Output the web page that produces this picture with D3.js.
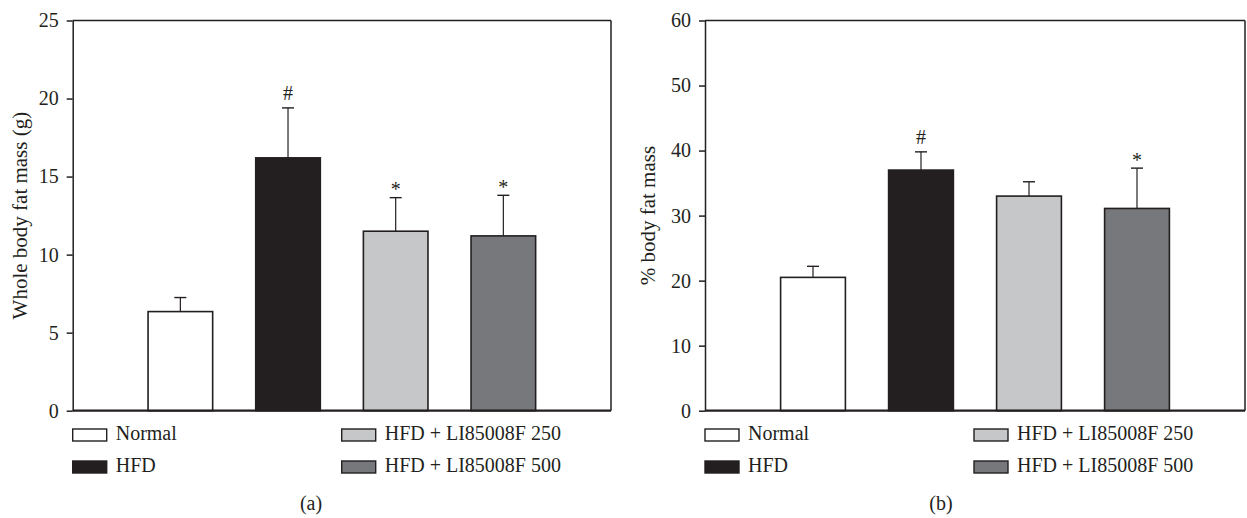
<!DOCTYPE html>
<html>
<head>
  <meta charset="utf-8" />
  <title>Body fat mass</title>
  <script src="https://d3js.org/d3.v7.min.js"></script>
  <style>
    body { margin: 0; background: #fff; }
    svg { display: block; }
    text { font-family: 'Liberation Serif', 'Times New Roman', serif; fill: #231f20; }
  </style>
</head>
<body>
  <svg id="chart" width="1247" height="518"></svg>
  <script>
    // data
    var groups = ["Normal", "HFD", "HFD + LI85008F 250", "HFD + LI85008F 500"];
    var fills = ["#ffffff", "#231f20", "#c6c7c9", "#77787b"];

    var fatMass = [6.35, 16.2, 11.5, 11.2];
    var fatMassErr = [0.9, 3.2, 2.15, 2.6];
    var fatMassSig = ["", "#", "*", "*"];
    var fatMassTicks = [0, 5, 10, 15, 20, 25];

    var fatPct = [20.5, 37.0, 33.0, 31.1];
    var fatPctErr = [1.7, 2.8, 2.2, 6.2];
    var fatPctSig = ["", "#", "", "*"];
    var fatPctTicks = [0, 10, 20, 30, 40, 50, 60];

    var ink = "#231f20";
    var svg = d3.select("#chart");

    function drawPanel(opt) {
      var g = svg.append("g");
      var top = 20.5, bottom = 410.7;

      var x = d3.scalePoint().domain(groups).range([opt.x0, opt.x1]).padding(1);
      var y = d3.scaleLinear().domain([0, opt.max]).range([bottom, top]);
      var bw = x.step() * 0.6;

      var rows = groups.map(function(name, i) {
        return { name: name, v: opt.values[i], e: opt.errs[i], sig: opt.sig[i], fill: fills[i] };
      });

      // bars
      g.selectAll("rect.bar").data(rows).enter().append("rect")
        .attr("class", "bar")
        .attr("x", function(d) { return x(d.name) - bw / 2; })
        .attr("y", function(d) { return y(d.v); })
        .attr("width", bw)
        .attr("height", function(d) { return y(0) - y(d.v); })
        .attr("fill", function(d) { return d.fill; })
        .attr("stroke", ink)
        .attr("stroke-width", 1.6);

      // error bars (upper only)
      g.selectAll("line.err").data(rows).enter().append("line")
        .attr("class", "err")
        .attr("x1", function(d) { return x(d.name); })
        .attr("x2", function(d) { return x(d.name); })
        .attr("y1", function(d) { return y(d.v); })
        .attr("y2", function(d) { return y(d.v + d.e); })
        .attr("stroke", ink).attr("stroke-width", 1.2);
      g.selectAll("line.cap").data(rows).enter().append("line")
        .attr("class", "cap")
        .attr("x1", function(d) { return x(d.name) - 6; })
        .attr("x2", function(d) { return x(d.name) + 6; })
        .attr("y1", function(d) { return y(d.v + d.e); })
        .attr("y2", function(d) { return y(d.v + d.e); })
        .attr("stroke", ink).attr("stroke-width", 1.4);

      // significance marks
      g.selectAll("text.sig").data(rows.filter(function(d) { return d.sig; })).enter().append("text")
        .attr("class", "sig")
        .attr("x", function(d) { return x(d.name); })
        .attr("y", function(d) { return y(d.v + d.e) - (d.sig == "#" ? 8 : 1.5); })
        .attr("text-anchor", "middle")
        .style("font-size", "20px")
        .text(function(d) { return d.sig; });

      // frame
      g.append("line").attr("x1", opt.x0).attr("x2", opt.x1).attr("y1", top).attr("y2", top)
        .attr("stroke", ink).attr("stroke-width", 1.5);
      g.append("line").attr("x1", opt.x1).attr("x2", opt.x1).attr("y1", top).attr("y2", bottom)
        .attr("stroke", ink).attr("stroke-width", 1.5);
      g.append("line").attr("x1", opt.x0).attr("x2", opt.x1).attr("y1", bottom).attr("y2", bottom)
        .attr("stroke", ink).attr("stroke-width", 2.2);

      // y axis
      var ax = g.append("g")
        .attr("transform", "translate(" + opt.x0 + ",0)")
        .call(d3.axisLeft(y).tickValues(opt.ticks).tickSize(6).tickSizeOuter(0).tickPadding(8));
      ax.select(".domain").attr("stroke", ink).attr("stroke-width", 1.5);
      ax.selectAll(".tick line").attr("stroke", ink).attr("stroke-width", 1.5);
      ax.selectAll(".tick text").style("font-size", "20px").style("font-family", "'Liberation Serif', serif").attr("fill", ink);

      // y title
      g.append("text")
        .attr("transform", "translate(" + opt.titleX + "," + ((top + bottom) / 2) + ") rotate(-90)")
        .attr("text-anchor", "middle")
        .style("font-size", "21px")
        .text(opt.title);

      // legend
      var leg = g.selectAll("g.leg").data(rows).enter().append("g")
        .attr("class", "leg")
        .attr("transform", function(d, i) {
          var lx = opt.x0 + (i < 2 ? 0 : 269);
          var ly = 429 + (i % 2) * 32;
          return "translate(" + lx + "," + ly + ")";
        });
      leg.append("rect")
        .attr("width", 34).attr("height", 12)
        .attr("fill", function(d) { return d.fill; })
        .attr("stroke", ink).attr("stroke-width", 1.4);
      leg.append("text")
        .attr("x", 43).attr("y", 11)
        .style("font-size", "20px")
        .text(function(d) { return d.name; });

      // panel label
      g.append("text")
        .attr("x", opt.labelX).attr("y", 510)
        .attr("text-anchor", "middle")
        .style("font-size", "20px")
        .text(opt.label);
    }

    drawPanel({ x0: 72.7, x1: 611, max: 25, ticks: fatMassTicks, values: fatMass, errs: fatMassErr,
      sig: fatMassSig, title: "Whole body fat mass (g)", titleX: 27, label: "(a)", labelX: 311 });
    drawPanel({ x0: 705, x1: 1245, max: 60, ticks: fatPctTicks, values: fatPct, errs: fatPctErr,
      sig: fatPctSig, title: "% body fat mass", titleX: 655, label: "(b)", labelX: 941 });
  </script>
</body>
</html>
